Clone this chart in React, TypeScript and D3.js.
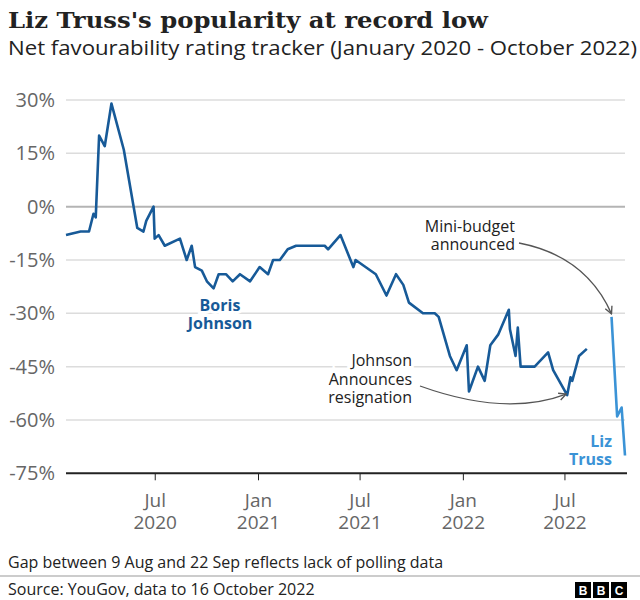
import React from "react";
import * as d3 from "d3";

const johnsonDates = [
  "2020-01-24","2020-02-19","2020-03-05","2020-03-13","2020-03-17","2020-03-23","2020-04-02","2020-04-14",
  "2020-05-06","2020-05-30","2020-06-10","2020-06-15","2020-06-28","2020-06-30","2020-07-07","2020-07-18",
  "2020-08-14","2020-08-26","2020-09-04","2020-09-10","2020-09-22","2020-10-01","2020-10-13","2020-10-22",
  "2020-11-04","2020-11-16","2020-11-29","2020-12-17","2021-01-03","2021-01-18","2021-01-27","2021-02-08",
  "2021-02-22","2021-03-09","2021-04-29","2021-05-05","2021-05-27","2021-06-19","2021-06-23","2021-07-29",
  "2021-08-17","2021-09-03","2021-09-16","2021-09-26","2021-10-21","2021-11-11","2021-11-18","2021-12-08",
  "2021-12-20","2022-01-07","2022-01-11","2022-01-27","2022-02-08","2022-02-18","2022-03-04","2022-03-23",
  "2022-03-25","2022-04-04","2022-04-08","2022-04-13","2022-05-08","2022-06-01","2022-06-10","2022-07-05",
  "2022-07-11","2022-07-14","2022-07-26","2022-08-09"
];
const johnsonValues = [
  -8,-7,-7,-2,-3,20,17,29,
  16,-6,-7,-4,0,-9,-8,-11,
  -9,-15,-11,-17,-18,-21,-23,-19,
  -19,-21,-19,-21,-17,-19,-15,-15,
  -12,-11,-11,-12,-8,-17,-15,-19,
  -25,-19,-22,-27,-30,-30,-31,-42,
  -46,-39,-52,-45,-49,-39,-36,-29,
  -34.5,-42,-34,-45,-45,-41,-46,-53,
  -48,-49,-42,-40
];
const trussDates = ["2022-09-22","2022-10-02","2022-10-10","2022-10-16"];
const trussValues = [-31,-59,-56.5,-70];

const yTicks = [30, 15, 0, -15, -30, -45, -60, -75];
const xTickDates = ["2020-07-01","2021-01-01","2021-07-01","2022-01-01","2022-07-01"];
const xTickMonths = ["Jul","Jan","Jul","Jan","Jul"];
const xTickYears = ["2020","2021","2021","2022","2022"];

const parse = d3.timeParse("%Y-%m-%d");

const JOHNSON_COLOR = "#175a98";
const TRUSS_COLOR = "#3b93d6";
const SANS = "'Open Sans', 'Noto Sans', sans-serif";

export default function App() {
  const x = d3.scaleTime()
    .domain([parse("2020-01-24")!, parse("2022-10-16")!])
    .range([66, 625]);
  const y = d3.scaleLinear().domain([-75, 30]).range([473.3, 100]);

  const johnson = johnsonDates.map((d, i) => ({ date: parse(d)!, v: johnsonValues[i] }));
  const truss = trussDates.map((d, i) => ({ date: parse(d)!, v: trussValues[i] }));
  const line = d3.line<{ date: Date; v: number }>()
    .x((d) => x(d.date))
    .y((d) => y(d.v))
    .curve(d3.curveLinear);

  const left = 66;
  const right = 625;

  const mbTip = { x: x(truss[0].date), y: y(truss[0].v) - 3 };
  const resTip = { x: x(parse("2022-07-05")!) - 1, y: y(-53) - 1 };

  return (
    <div style={{ position: "absolute", left: 0, top: 0 }}>
      <svg width={640} height={600} style={{ display: "block", background: "#fff" }}>
        <defs>
          <marker id="arr" viewBox="0 0 10 10" refX="9" refY="5" markerWidth="7" markerHeight="7" orient="auto">
            <path d="M1,1 L9,5 L1,9" fill="none" stroke="#555" strokeWidth="1.5" />
          </marker>
        </defs>
        <text x={8} y={28} fontFamily="'DejaVu Serif', serif" fontWeight="bold" fontSize={23} fill="#222"
          textLength={480} lengthAdjust="spacingAndGlyphs">
          Liz Truss's popularity at record low
        </text>
        <text x={8} y={55} fontFamily={SANS} fontSize={20} fill="#222" textLength={629} lengthAdjust="spacingAndGlyphs">
          Net favourability rating tracker (January 2020 - October 2022)
        </text>

        {yTicks.map((t) => (
          <g key={t}>
            {t !== -75 && (
              <line x1={left} x2={right} y1={y(t)} y2={y(t)}
                stroke={t === 0 ? "#b4b4b4" : "#dcdcdc"} strokeWidth={t === 0 ? 2 : 1.5} />
            )}
            <text x={55} y={y(t)} dy="0.35em" textAnchor="end" fontFamily={SANS} fontSize={20} fill="#666">
              {t}%
            </text>
          </g>
        ))}

        <line x1={left} x2={right + 2} y1={y(-75)} y2={y(-75)} stroke="#222" strokeWidth={2} />
        {xTickDates.map((d, i) => {
          const xx = x(parse(d)!);
          return (
            <g key={d}>
              <line x1={xx} x2={xx} y1={y(-75)} y2={y(-75) + 7} stroke="#222" strokeWidth={1} />
              <text x={xx} y={507} textAnchor="middle" fontFamily={SANS} fontSize={19} fill="#666">{xTickMonths[i]}</text>
              <text x={xx} y={529} textAnchor="middle" fontFamily={SANS} fontSize={19} fill="#666">{xTickYears[i]}</text>
            </g>
          );
        })}

        <g fontFamily={SANS} fontSize={16} fontWeight="bold" fill={JOHNSON_COLOR} textAnchor="middle"
          stroke="#fff" strokeWidth={6} style={{ paintOrder: "stroke" } as any}>
          <text x={220} y={311}>Boris</text>
          <text x={220} y={329}>Johnson</text>
        </g>

        <path d={line(johnson) || ""} fill="none" stroke={JOHNSON_COLOR} strokeWidth={2.6} strokeLinejoin="round" />
        <path d={line(truss) || ""} fill="none" stroke={TRUSS_COLOR} strokeWidth={2.6} strokeLinejoin="round" />

        <g fontFamily={SANS} fontSize={16} fontWeight="bold" fill={TRUSS_COLOR} textAnchor="end">
          <text x={612} y={447}>Liz</text>
          <text x={612} y={465}>Truss</text>
        </g>

        <g fontFamily={SANS} fontSize={16} fill="#222" textAnchor="end"
          stroke="#fff" strokeWidth={6} style={{ paintOrder: "stroke" } as any}>
          <text x={412} y={366}>Johnson</text>
          <text x={412} y={385}>Announces</text>
          <text x={412} y={403}>resignation</text>
          <text x={515} y={232}>Mini-budget</text>
          <text x={515} y={250}>announced</text>
        </g>

        <path d={`M519,243 Q586,256 ${mbTip.x},${mbTip.y}`} fill="none" stroke="#555" strokeWidth={1.3} markerEnd="url(#arr)" />
        <path d={`M420,386 Q506,417 ${resTip.x},${resTip.y}`} fill="none" stroke="#555" strokeWidth={1.3} markerEnd="url(#arr)" />

        <text x={8} y={568} fontFamily={SANS} fontSize={16} fill="#222">
          Gap between 9 Aug and 22 Sep reflects lack of polling data
        </text>
        <line x1={0} x2={640} y1={576} y2={576} stroke="#999" strokeWidth={1} />
        <text x={8} y={595} fontFamily={SANS} fontSize={16} fill="#222">
          Source: YouGov, data to 16 October 2022
        </text>
        {["B", "B", "C"].map((c, i) => (
          <g key={i}>
            <rect x={575 + i * 18} y={582} width={16} height={16} fill="#000" />
            <text x={575 + i * 18 + 8} y={594.5} textAnchor="middle" fontFamily="'Liberation Sans', Arial, sans-serif"
              fontWeight="bold" fontSize={12} fill="#fff">{c}</text>
          </g>
        ))}
      </svg>
    </div>
  );
}
